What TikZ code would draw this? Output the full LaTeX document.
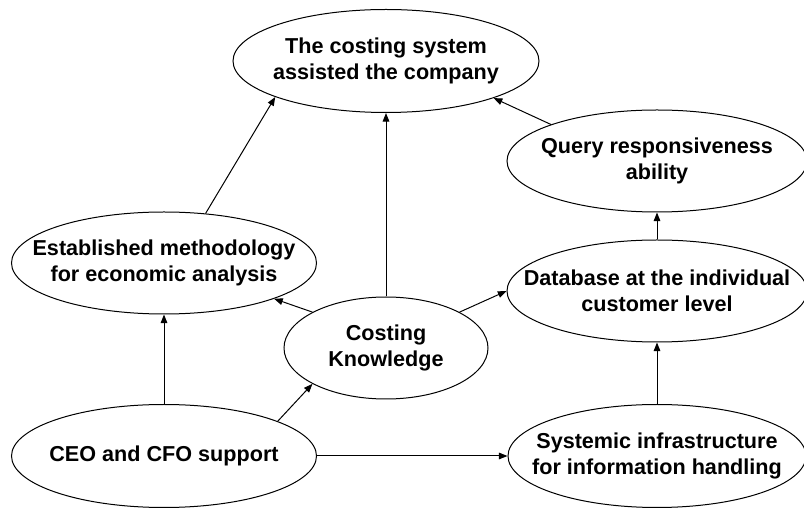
\documentclass[tikz,border=0pt]{standalone}
\usepackage{fontspec}
\setmainfont{Liberation Sans}
\usetikzlibrary{shapes.geometric,arrows.meta}
\begin{document}
\begin{tikzpicture}[x=0.75pt,y=-0.75pt,
  oval/.style={ellipse,draw,line width=0.75pt,inner sep=0pt},
  txt/.style={align=center,inner sep=0pt,font=\fontsize{16.2}{19.5}\selectfont\bfseries},
  arr/.style={line width=0.75pt,-{Triangle[length=6.5pt,width=5pt]}}]
\useasboundingbox (0,0) rectangle (804,509);
\node[oval,minimum width=306*0.75pt,minimum height=103*0.75pt,label={[txt]center:The costing system\\assisted the company}] (top) at (386,61) {};
\node[oval,minimum width=300*0.75pt,minimum height=102*0.75pt,label={[txt]center:Query responsiveness\\ability}] (query) at (657,161) {};
\node[oval,minimum width=300*0.75pt,minimum height=102*0.75pt,label={[txt]center:Database at the individual\\customer level}] (db) at (657,291) {};
\node[oval,minimum width=305*0.75pt,minimum height=102*0.75pt,label={[txt]center:Established methodology\\for economic analysis}] (est) at (164,263) {};
\node[oval,minimum width=204*0.75pt,minimum height=102*0.75pt,label={[txt]center:Costing\\Knowledge}] (cost) at (386,348) {};
\node[oval,minimum width=305*0.75pt,minimum height=103*0.75pt,label={[txt]center:CEO and CFO support}] (ceo) at (164,456) {};
\node[oval,minimum width=298*0.75pt,minimum height=103*0.75pt,label={[txt]center:Systemic infrastructure\\for information handling}] (sys) at (657,456) {};
\draw[arr] (est.50.6) -- (top.198.4);
\draw[arr] (cost.north) -- (top.south);
\draw[arr] (query.161.2) -- (top.341.6);
\draw[arr] (db.north) -- (query.south);
\draw[arr] (sys.north) -- (db.south);
\draw[arr] (cost.154.1) -- (est.342.2);
\draw[arr] (cost.26.3) -- (db.west);
\draw[arr] (ceo.17.8) -- (cost.206.6);
\draw[arr] (ceo.north) -- (est.south);
\draw[arr] (ceo.east) -- (sys.west);
\end{tikzpicture}
\end{document}
